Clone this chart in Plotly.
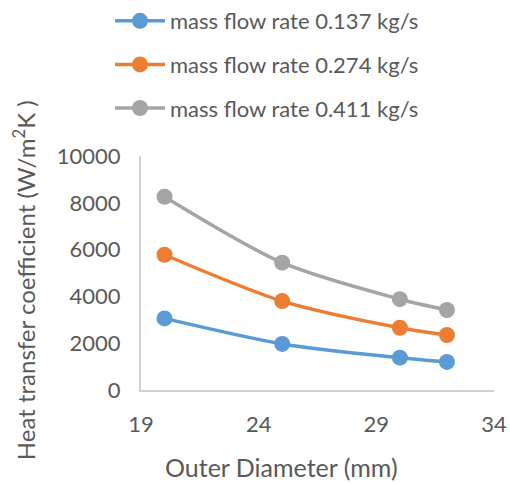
import plotly.graph_objects as go

# Outer tube diameter (mm) and heat transfer coefficient (W/m²K) per mass flow rate
outer_diameter = [20, 25, 30, 32]
htc_0137 = [3060, 1970, 1380, 1200]
htc_0274 = [5780, 3800, 2660, 2350]
htc_0411 = [8260, 5440, 3880, 3420]

series_names = [
    "mass flow rate 0.137 kg/s",
    "mass flow rate 0.274 kg/s",
    "mass flow rate 0.411 kg/s",
]
series_colors = ["#5B9BD5", "#ED7D31", "#A5A5A5"]
x_ticks = [19, 24, 29, 34]
y_ticks = [0, 2000, 4000, 6000, 8000, 10000]

x_title = "Outer Diameter (mm)"
y_title = "Heat transfer coefficient (W/m<sup>2</sup>K )"

FONT = "Lato"
TEXT_COLOR = "#595959"
AXIS_COLOR = "#D0D0D0"

fig = go.Figure()
for name, values, color in zip(series_names, [htc_0137, htc_0274, htc_0411], series_colors):
    fig.add_trace(go.Scatter(
        x=outer_diameter,
        y=values,
        name=name,
        legendgroup=name,
        mode="lines+markers",
        line=dict(color=color, width=3.5, shape="spline", smoothing=0.8),
        marker=dict(color=color, size=16),
    ))

axis_common = dict(
    showgrid=False,
    zeroline=False,
    showline=True,
    linecolor=AXIS_COLOR,
    linewidth=2,
    ticks="",
    automargin=False,
    ticklabelstandoff=14,
    tickfont=dict(family=FONT, size=22, color=TEXT_COLOR),
)

fig.update_layout(
    width=510,
    height=484,
    margin=dict(l=141, r=16, t=156, b=94, autoexpand=False),
    paper_bgcolor="white",
    plot_bgcolor="white",
    font=dict(family=FONT, size=22, color=TEXT_COLOR),
    showlegend=True,
    legend=dict(
        xref="container",
        yref="container",
        x=110 / 510,
        y=1.0,
        xanchor="left",
        yanchor="top",
        traceorder="grouped",
        tracegroupgap=12,
        itemwidth=50,
        font=dict(family=FONT, size=22, color=TEXT_COLOR),
        bgcolor="rgba(0,0,0,0)",
    ),
    xaxis=dict(range=[19, 34], tickvals=x_ticks,
               ticktext=[str(v) for v in x_ticks], **axis_common),
    yaxis=dict(range=[0, 10000], tickvals=y_ticks,
               ticktext=[str(v) for v in y_ticks], **axis_common),
    annotations=[
        dict(text=x_title, xref="paper", yref="paper", x=0.397, y=-0.329,
             xanchor="center", yanchor="middle", showarrow=False,
             font=dict(family=FONT, size=25, color=TEXT_COLOR)),
        dict(text=y_title, xref="paper", yref="paper", x=-0.331, y=0.47,
             xanchor="center", yanchor="middle", textangle=-90, showarrow=False,
             font=dict(family=FONT, size=24, color=TEXT_COLOR)),
    ],
)

fig.write_html("out.html")
